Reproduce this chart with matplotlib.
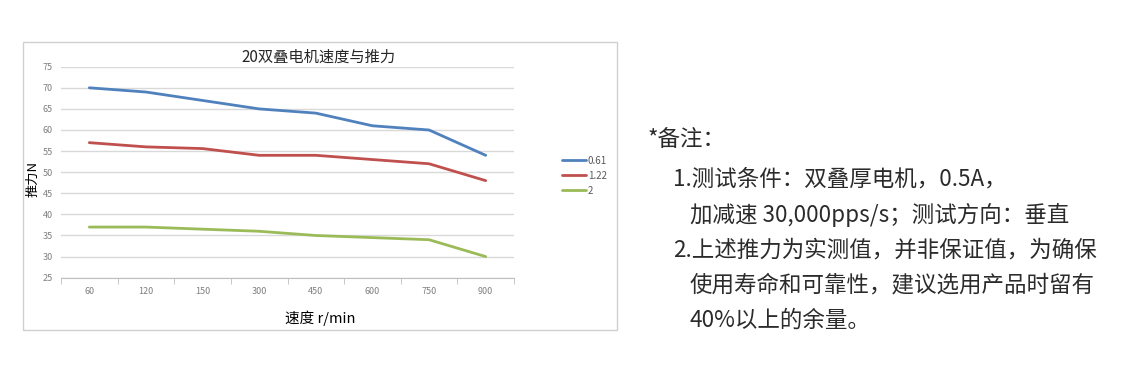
import matplotlib
matplotlib.use("Agg")
import matplotlib.pyplot as plt
from matplotlib.patches import Rectangle

plt.rcParams["font.family"] = ["Noto Sans CJK SC", "DejaVu Sans"]

speeds = ["60", "120", "150", "300", "450", "600", "750", "900"]
force_061 = [70, 69, 67, 65, 64, 61, 60, 54]
force_122 = [57, 56, 55.6, 54, 54, 53, 52, 48]
force_2 = [37, 37, 36.5, 36, 35, 34.5, 34, 30]
series_names = ["0.61", "1.22", "2"]
series_colors = ["#4F81BD", "#C0504D", "#9BBB59"]

notes = [
    (648, 140, "*备注："),
    (673, 179, "1.测试条件：双叠厚电机，0.5A，"),
    (690, 215, "加减速 30,000pps/s；测试方向：垂直"),
    (673, 250, "2.上述推力为实测值，并非保证值，为确保"),
    (690, 285, "使用寿命和可靠性，建议选用产品时留有"),
    (690, 320, "40%以上的余量。"),
]

W, H = 1131, 374
fig = plt.figure(figsize=(W / 100, H / 100), dpi=100)

# chart frame
fig.patches.append(Rectangle((23 / W, 1 - 330 / H), (617 - 23) / W, (330 - 42) / H,
                             transform=fig.transFigure, fill=False,
                             edgecolor="#d0d0d0", linewidth=1))

ax = fig.add_axes([61 / W, 1 - 277.7 / H, (514 - 61) / W, (277.7 - 66.7) / H])
x = range(len(speeds))
for vals, name, col in zip([force_061, force_122, force_2], series_names, series_colors):
    ax.plot(x, vals, color=col, linewidth=2, label=name, solid_capstyle="round")

ax.set_xlim(-0.5, len(speeds) - 0.5)
ax.set_ylim(25, 75)
ax.set_yticks(range(25, 80, 5))
ax.set_xticks(list(x))
ax.set_xticklabels(speeds)
ax.set_xticks([i - 0.5 for i in range(len(speeds) + 1)], minor=True)
ax.grid(axis="y", color="#d9d9d9", linewidth=1)
ax.set_axisbelow(True)
for s in ["top", "right", "left"]:
    ax.spines[s].set_visible(False)
ax.spines["bottom"].set_color("#bfbfbf")
ax.tick_params(axis="y", length=0, labelsize=6.5, labelcolor="#7f7f7f", pad=6)
ax.tick_params(axis="x", which="major", length=0, labelsize=6.5, labelcolor="#7f7f7f", pad=7)
ax.tick_params(axis="x", which="minor", length=4, color="#bfbfbf", direction="out")

fig.text(318 / W, 1 - 57 / H, "20双叠电机速度与推力", ha="center", va="center",
         fontsize=11, color="#262626")
fig.text(320 / W, 1 - 318 / H, "速度 r/min", ha="center", va="center",
         fontsize=10.5, color="#000000")
fig.text(33 / W, 1 - 179 / H, "推力N", ha="center", va="center", rotation=90,
         fontsize=9.5, color="#000000")

leg = fig.legend(loc="upper left", bbox_to_anchor=(558 / W, 1 - 152 / H),
                 frameon=False, fontsize=7, handlelength=2.5, labelspacing=0.5,
                 handletextpad=0.15, borderaxespad=0)
for t in leg.get_texts():
    t.set_color("#595959")

for px, py, txt in notes:
    fig.text(px / W, 1 - py / H, txt, ha="left", va="center", fontsize=16.2,
             color="#2b2b2b")

fig.savefig("out.png", dpi=100)
